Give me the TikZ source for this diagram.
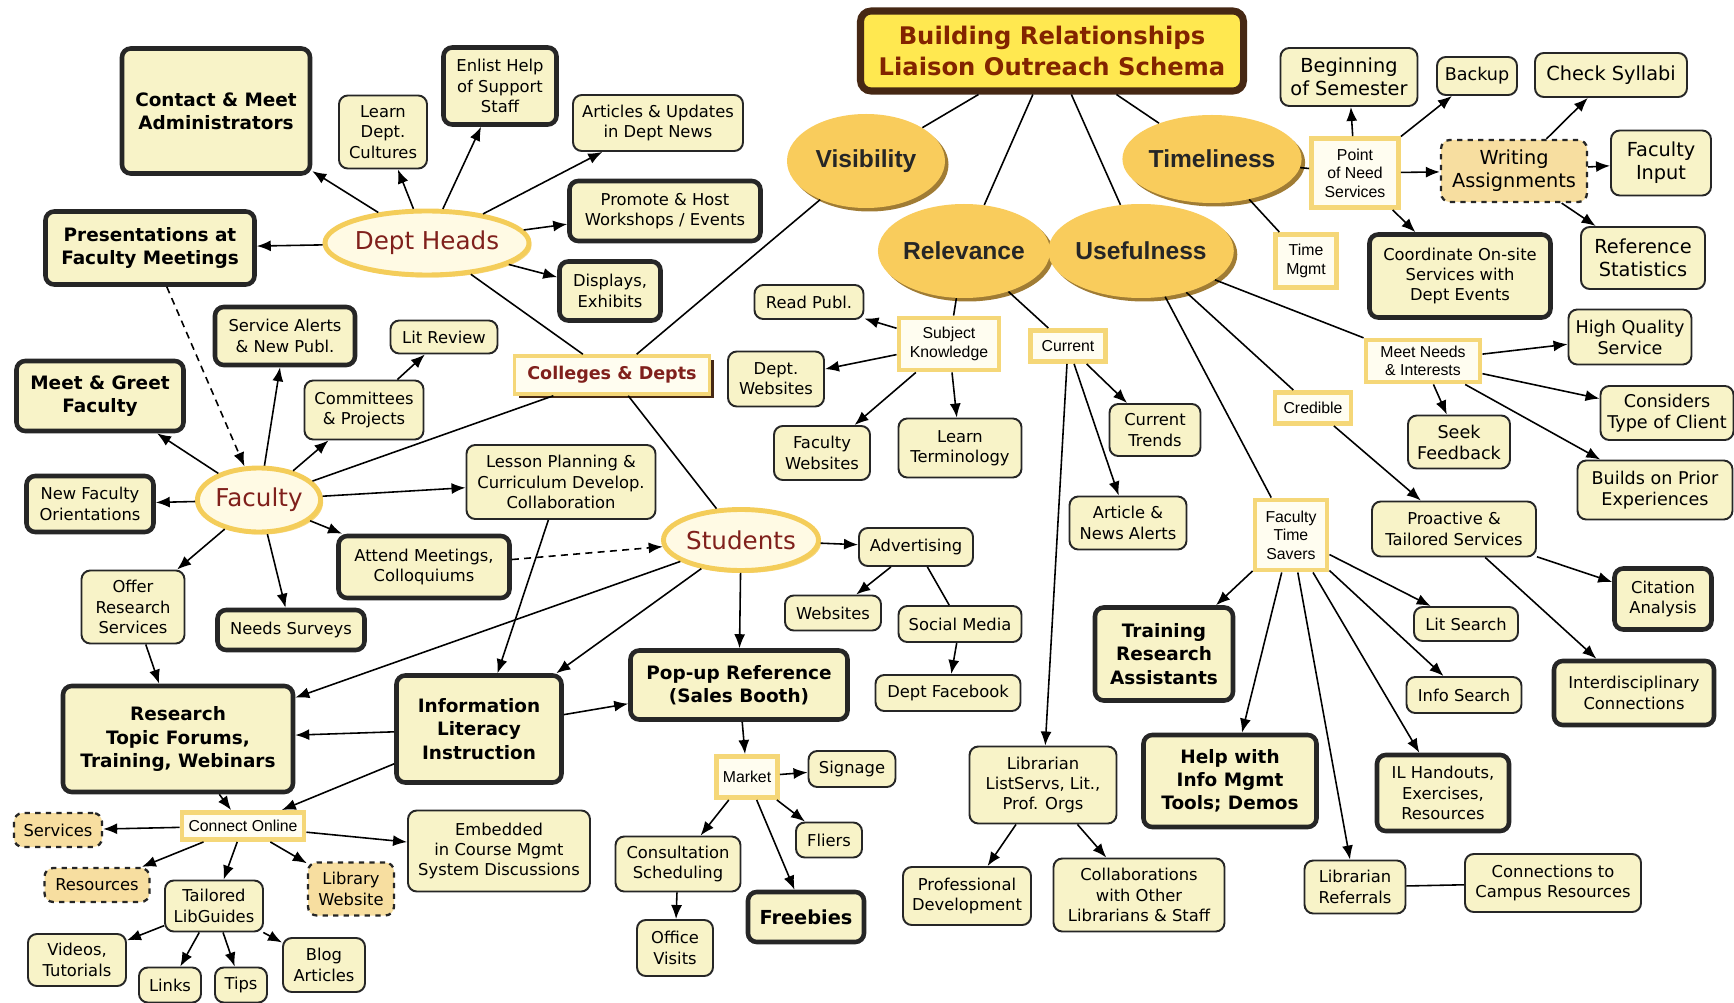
\documentclass[tikz,border=0pt]{standalone}
\usepackage{fontspec}
\setmainfont{DejaVu Sans}
\newfontfamily\arialfont{Liberation Sans}
\usetikzlibrary{shapes.geometric, arrows.meta, shadows}
\definecolor{boxfill}{RGB}{248,243,200}
\definecolor{dashfill}{RGB}{247,222,160}
\definecolor{gold}{RGB}{249,204,92}
\definecolor{goldshade}{RGB}{150,110,30}
\definecolor{ringgold}{RGB}{244,205,90}
\definecolor{ringfill}{RGB}{255,250,228}
\definecolor{linkgold}{RGB}{245,215,120}
\definecolor{linkfill}{RGB}{255,253,240}
\definecolor{darkred}{RGB}{128,32,28}
\definecolor{titlefill}{RGB}{255,232,80}
\definecolor{titledraw}{RGB}{70,40,20}
\definecolor{titletext}{RGB}{130,36,0}
\tikzset{
	sz/.style 2 args={minimum width=#1*0.02cm, minimum height=#2*0.02cm},
	concept/.style={rectangle, draw=black!85, line width=1.1pt, fill=boxfill, rounded corners=5pt, align=center, inner sep=1pt, font=\fontsize{9.3}{11.5}\selectfont},
	heavy/.style={concept, line width=2.6pt},
	keyconcept/.style={concept, line width=2.6pt, font=\fontsize{10.5}{13.2}\selectfont\bfseries},
	maybe/.style={concept, dashed, line width=1.3pt, fill=dashfill},
	midtext/.style={font=\fontsize{10}{12}\selectfont},
	bigtext/.style={font=\fontsize{11}{13}\selectfont},
	linkbox/.style={rectangle, draw=linkgold, line width=2.8pt, fill=linkfill, align=center, inner sep=1pt, font=\arialfont\fontsize{9}{10.5}\selectfont},
	pillar/.style={ellipse, fill=gold, inner sep=0pt, text=black!85, font=\arialfont\bfseries\fontsize{14}{16}\selectfont, drop shadow={shadow xshift=0.07cm, shadow yshift=-0.07cm, fill=goldshade, opacity=0.9}},
	group/.style={ellipse, draw=ringgold, line width=2.8pt, fill=ringfill, inner sep=0pt, text=darkred, font=\fontsize{14}{16}\selectfont, drop shadow={shadow xshift=0.05cm, shadow yshift=-0.05cm, fill=ringgold, opacity=0.8}},
	titlebox/.style={rectangle, draw=titledraw, line width=4pt, rounded corners=6pt, fill=titlefill, align=center, text=titletext, font=\fontsize{13.8}{17.5}\selectfont\bfseries},
	collbox/.style={rectangle, draw=linkgold, line width=2pt, fill=linkfill, text=darkred, font=\fontsize{10}{12}\selectfont\bfseries, drop shadow={shadow xshift=0.08cm, shadow yshift=-0.08cm, fill=titledraw, opacity=1}},
	conn/.style={draw, line width=0.9pt, -{Latex[length=2.8mm, width=2.2mm]}},
	tie/.style={draw, line width=0.9pt},
	hint/.style={conn, dash pattern=on 4pt off 3pt}
}

\begin{document}
\begin{tikzpicture}[x=0.02cm, y=-0.02cm]
	\path[use as bounding box, fill=white] (0,0) rectangle (1734,1003);

	% Title and the four pillars
	\node[titlebox, sz={383}{80}] (title) at (1052,51) {Building Relationships\\Liaison Outreach Schema};
	\node[pillar, sz={158}{94}] (vis) at (866,161) {Visibility};
	\node[pillar, sz={160}{94}] (rel) at (964,251) {Relevance};
	\node[pillar, sz={171}{94}] (use) at (1141,251) {Usefulness};
	\node[pillar, sz={164}{88}] (tim) at (1212,159) {Timeliness};
	\node[collbox, sz={195}{38}] (colleges) at (612,375) {Colleges \& Depts};

	% Dept Heads
	\node[group, sz={166}{64}] (depthds) at (427,243) {Dept Heads};
	\node[keyconcept, sz={188}{125}] (contact) at (216,111) {Contact \& Meet\\Administrators};
	\node[concept, sz={88}{73}] (learncult) at (383,132) {Learn\\Dept.\\Cultures};
	\node[heavy, sz={113}{77}] (enlist) at (500,86) {Enlist Help\\of Support\\Staff};
	\node[concept, sz={170}{56}] (articles) at (658,123) {Articles \& Updates\\in Dept News};
	\node[heavy, sz={191}{60}] (promote) at (665,211) {Promote \& Host\\Workshops / Events};
	\node[heavy, sz={101}{59}] (displays) at (610,291) {Displays,\\Exhibits};
	\node[keyconcept, sz={209}{73}] (present) at (150,248) {Presentations at\\Faculty Meetings};

	% Faculty
	\node[group, sz={116}{64}] (faculty) at (259,500) {Faculty};
	\node[heavy, sz={140}{58}] (alerts) at (285,336) {Service Alerts\\\& New Publ.};
	\node[concept, sz={107}{33}] (litrev) at (444,337) {Lit Review};
	\node[keyconcept, sz={167}{70}] (greet) at (100,396) {Meet \& Greet\\Faculty};
	\node[concept, sz={119}{59}] (committees) at (364,410) {Committees\\\& Projects};
	\node[heavy, sz={127}{56}] (neworient) at (90,504) {New Faculty\\Orientations};
	\node[concept, sz={189}{74}] (lesson) at (561,482) {Lesson Planning \&\\Curriculum Develop.\\Collaboration};
	\node[heavy, sz={171}{62}] (attend) at (424,567) {Attend Meetings,\\Colloquiums};
	\node[concept, sz={103}{73}] (offer) at (133,607) {Offer\\Research\\Services};
	\node[heavy, sz={147}{40}] (surveys) at (291,630) {Needs Surveys};

	% Students
	\node[group, sz={133}{61}] (students) at (741,540) {Students};
	\node[concept, sz={114}{38}] (advert) at (916,547) {Advertising};
	\node[concept, sz={96}{35}] (websites) at (833,613) {Websites};
	\node[concept, sz={123}{36}] (social) at (960,624) {Social Media};
	\node[concept, sz={145}{36}] (facebook) at (948,693) {Dept Facebook};
	\node[keyconcept, sz={217}{69}] (popup) at (739,685) {Pop-up Reference\\(Sales Booth)};
	\node[keyconcept, sz={230}{106}] (forums) at (178,739) {Research\\Topic Forums,\\Training, Webinars};
	\node[keyconcept, sz={165}{107}] (ili) at (479,729) {Information\\Literacy\\Instruction};

	% Connect Online
	\node[linkbox, sz={122}{27}] (connect) at (243,826) {Connect Online};
	\node[maybe, sz={88}{34}] (services) at (58,830) {Services};
	\node[maybe, sz={105}{34}] (resources) at (97,885) {Resources};
	\node[maybe, sz={86}{53}] (libweb) at (351,889) {Library\\Website};
	\node[concept, sz={98}{51}] (libguides) at (214,906) {Tailored\\LibGuides};
	\node[concept, sz={182}{81}] (embedded) at (499,851) {Embedded\\in Course Mgmt\\System Discussions};
	\node[concept, sz={98}{52}] (videos) at (77,960) {Videos,\\Tutorials};
	\node[concept, sz={62}{35}] (links) at (170,985) {Links};
	\node[concept, sz={52}{35}] (tips) at (241,985) {Tips};
	\node[concept, sz={82}{54}] (blog) at (324,965) {Blog\\Articles};

	% Market
	\node[linkbox, sz={61}{41}] (market) at (747,777) {Market};
	\node[concept, sz={87}{36}] (signage) at (852,769) {Signage};
	\node[concept, sz={66}{35}] (fliers) at (829,840) {Fliers};
	\node[concept, sz={125}{55}] (consult) at (678,864) {Consultation\\Scheduling};
	\node[keyconcept, sz={116}{50}, font=\fontsize{11}{13}\selectfont\bfseries] (freebies) at (806,917) {Freebies};
	\node[concept, sz={76}{56}] (office) at (675,948) {Office\\Visits};

	% Relevance
	\node[linkbox, sz={100}{52}] (subject) at (949,344) {Subject\\Knowledge};
	\node[concept, sz={109}{34}] (readpubl) at (809,302) {Read Publ.};
	\node[concept, sz={96}{55}] (deptweb) at (776,379) {Dept.\\Websites};
	\node[concept, sz={96}{54}] (facweb) at (822,453) {Faculty\\Websites};
	\node[concept, sz={123}{59}] (terms) at (960,448) {Learn\\Terminology};
	\node[linkbox, sz={75}{31}] (current) at (1068,346) {Current};
	\node[concept, sz={91}{52}] (trends) at (1155,430) {Current\\Trends};
	\node[concept, sz={117}{53}] (newsalerts) at (1128,523) {Article \&\\News Alerts};
	\node[concept, sz={147}{77}] (listservs) at (1043,785) {Librarian\\ListServs, Lit.,\\Prof. Orgs};
	\node[concept, sz={128}{58}] (profdev) at (967,896) {Professional\\Development};
	\node[concept, sz={171}{73}] (collab) at (1139,895) {Collaborations\\with Other\\Librarians \& Staff};

	% Usefulness
	\node[linkbox, sz={72}{70}] (savers) at (1291,535) {Faculty\\Time\\Savers};
	\node[keyconcept, sz={138}{93}] (training) at (1164,654) {Training\\Research\\Assistants};
	\node[keyconcept, sz={173}{92}] (infomgmt) at (1230,781) {Help with\\Info Mgmt\\Tools; Demos};
	\node[concept, sz={104}{34}] (litsearch) at (1466,624) {Lit Search};
	\node[concept, sz={115}{36}] (infosearch) at (1464,695) {Info Search};
	\node[heavy, sz={132}{76}] (handouts) at (1443,793) {IL Handouts,\\Exercises,\\Resources};
	\node[concept, sz={101}{53}] (referrals) at (1355,887) {Librarian\\Referrals};
	\node[concept, sz={176}{58}] (campus) at (1553,883) {Connections to\\Campus Resources};
	\node[linkbox, sz={76}{31}] (credible) at (1313,408) {Credible};
	\node[concept, sz={164}{55}] (proactive) at (1454,529) {Proactive \&\\Tailored Services};
	\node[heavy, sz={97}{61}] (citation) at (1663,599) {Citation\\Analysis};
	\node[heavy, sz={160}{64}] (interdisc) at (1634,693) {Interdisciplinary\\Connections};
	\node[linkbox, sz={114}{42}] (needs) at (1423,361) {Meet Needs\\\& Interests};
	\node[concept, midtext, sz={123}{55}] (quality) at (1630,337) {High Quality\\Service};
	\node[concept, midtext, sz={133}{54}] (client) at (1667,413) {Considers\\Type of Client};
	\node[concept, midtext, sz={102}{53}] (feedback) at (1459,442) {Seek\\Feedback};
	\node[concept, midtext, sz={155}{59}] (prior) at (1655,490) {Builds on Prior\\Experiences};

	% Timeliness
	\node[linkbox, sz={87}{69}] (pointneed) at (1355,173) {Point\\of Need\\Services};
	\node[linkbox, sz={61}{53}] (timemgmt) at (1306,261) {Time\\Mgmt};
	\node[concept, bigtext, sz={137}{58}] (semester) at (1349,77) {Beginning\\of Semester};
	\node[concept, midtext, sz={80}{38}] (backup) at (1477,76) {Backup};
	\node[concept, bigtext, sz={152}{44}] (syllabi) at (1611,75) {Check Syllabi};
	\node[maybe, bigtext, sz={146}{62}] (writing) at (1514,171) {Writing\\Assignments};
	\node[concept, bigtext, sz={100}{65}] (facinput) at (1661,163) {Faculty\\Input};
	\node[heavy, sz={181}{83}] (coordinate) at (1460,276) {Coordinate On-site\\Services with\\Dept Events};
	\node[concept, bigtext, sz={124}{62}] (refstats) at (1643,258) {Reference\\Statistics};

	% Connectors
	\foreach \dst in {vis,rel,use,tim} \draw[tie] (title) -- (\dst);
	\foreach \src in {vis,depthds,faculty,students} \draw[tie] (\src) -- (colleges);
	\foreach \dst in {contact,learncult,enlist,articles,promote,displays,present} \draw[conn] (depthds) -- (\dst);
	\draw[hint] (present) -- (faculty);
	\foreach \dst in {alerts,committees,greet,neworient,lesson,attend,surveys,offer} \draw[conn] (faculty) -- (\dst);
	\draw[conn] (committees) -- (litrev);
	\draw[conn] (offer) -- (forums);
	\draw[hint] (attend) -- (students);
	\draw[conn] (lesson) -- (ili);
	\foreach \dst in {forums,ili,popup,advert} \draw[conn] (students) -- (\dst);
	\draw[conn] (advert) -- (websites);
	\draw[tie] (advert) -- (social);
	\draw[conn] (social) -- (facebook);
	\foreach \dst in {forums,popup,connect} \draw[conn] (ili) -- (\dst);
	\draw[conn] (forums) -- (connect);
	\foreach \dst in {services,resources,libguides,libweb,embedded} \draw[conn] (connect) -- (\dst);
	\foreach \dst in {videos,links,tips,blog} \draw[conn] (libguides) -- (\dst);
	\draw[conn] (popup) -- (market);
	\foreach \dst in {signage,fliers,consult,freebies} \draw[conn] (market) -- (\dst);
	\draw[conn] (consult) -- (office);
	\draw[tie] (rel) -- (subject);
	\draw[tie] (rel) -- (current);
	\foreach \dst in {readpubl,deptweb,facweb,terms} \draw[conn] (subject) -- (\dst);
	\foreach \dst in {trends,newsalerts,listservs} \draw[conn] (current) -- (\dst);
	\draw[conn] (listservs) -- (profdev);
	\draw[conn] (listservs) -- (collab);
	\foreach \dst in {savers,credible,needs} \draw[tie] (use) -- (\dst);
	\foreach \dst in {training,infomgmt,referrals,handouts,infosearch,litsearch} \draw[conn] (savers) -- (\dst);
	\draw[tie] (referrals) -- (campus);
	\draw[conn] (credible) -- (proactive);
	\draw[conn] (proactive) -- (citation);
	\draw[conn] (proactive) -- (interdisc);
	\foreach \dst in {quality,client,prior,feedback} \draw[conn] (needs) -- (\dst);
	\draw[tie] (tim) -- (pointneed);
	\draw[tie] (tim) -- (timemgmt);
	\foreach \dst in {semester,backup,writing,coordinate} \draw[conn] (pointneed) -- (\dst);
	\foreach \dst in {syllabi,facinput,refstats} \draw[conn] (writing) -- (\dst);
\end{tikzpicture}
\end{document}
